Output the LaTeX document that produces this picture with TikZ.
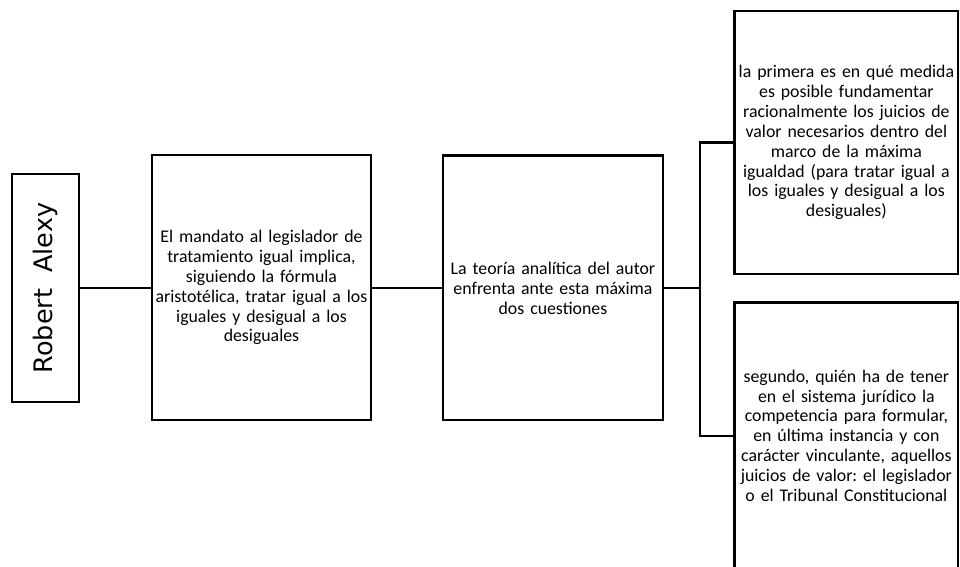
\documentclass[tikz,border=0pt]{standalone}
\usepackage{fontspec}
\setmainfont{Carlito}
\newfontfamily\dejavu{DejaVu Sans}
\frenchspacing

\tikzset{
  ideabox/.style={draw=black, line width=1.6pt, fill=white, align=center,
    inner sep=1pt, font=\fontsize{13.4}{15}\selectfont},
  link/.style={black, line width=1.6pt}
}

\begin{document}
\begin{tikzpicture}

\clip (0,0) rectangle (25.4,15.0);

% autor
\node[draw=black, line width=1.6pt, minimum width=6.03cm, minimum height=1.77cm,
  rotate=90, inner sep=0pt, font=\dejavu\fontsize{19.2}{21}\selectfont]
  (autor) at (1.204, 7.381) {Robert\ \ Alexy};

% cadena principal
\node[ideabox, minimum width=5.79cm, minimum height=7.01cm, text width=5.74cm]
  (mandato) at (6.918, 7.394)
  {El mandato al legislador de\\ tratamiento igual implica,\\ siguiendo la fórmula\\
   aristotélica, tratar igual a los\\ iguales y desigual a los\\ desiguales};
\node[ideabox, minimum width=5.82cm, minimum height=7.01cm, text width=5.77cm]
  (teoria) at (14.630, 7.381)
  {La teoría analítica del autor\\ enfrenta ante esta máxima\\ dos cuestiones};

% cuestiones
\node[ideabox, minimum width=5.90cm, minimum height=6.96cm, text width=5.85cm]
  (primera) at (22.394, 11.230)
  {la primera es en qué medida\\ es posible fundamentar\\ racionalmente los juicios de\\
   valor necesarios dentro del\\ marco de la máxima\\ igualdad (para tratar igual a\\
   los iguales y desigual a los\\ desiguales)};
\node[ideabox, minimum width=5.90cm, minimum height=7.05cm, text width=5.85cm]
  (segundo) at (22.394, 3.47)
  {segundo, quién ha de tener\\ en el sistema jurídico la\\ competencia para formular,\\
   en última instancia y con\\ carácter vinculante, aquellos\\ juicios de valor: el legislador\\
   o el Tribunal Constitucional};

\coordinate (fork) at (18.519, 7.381);

\draw[link] (autor.south) -- (mandato.west |- autor.south);
\draw[link] (mandato.east |- teoria.west) -- (teoria.west);
\draw[link] (teoria.east) -- (fork);
\draw[link] (primera.west) -| (fork) |- (segundo.west);

\end{tikzpicture}
\end{document}
